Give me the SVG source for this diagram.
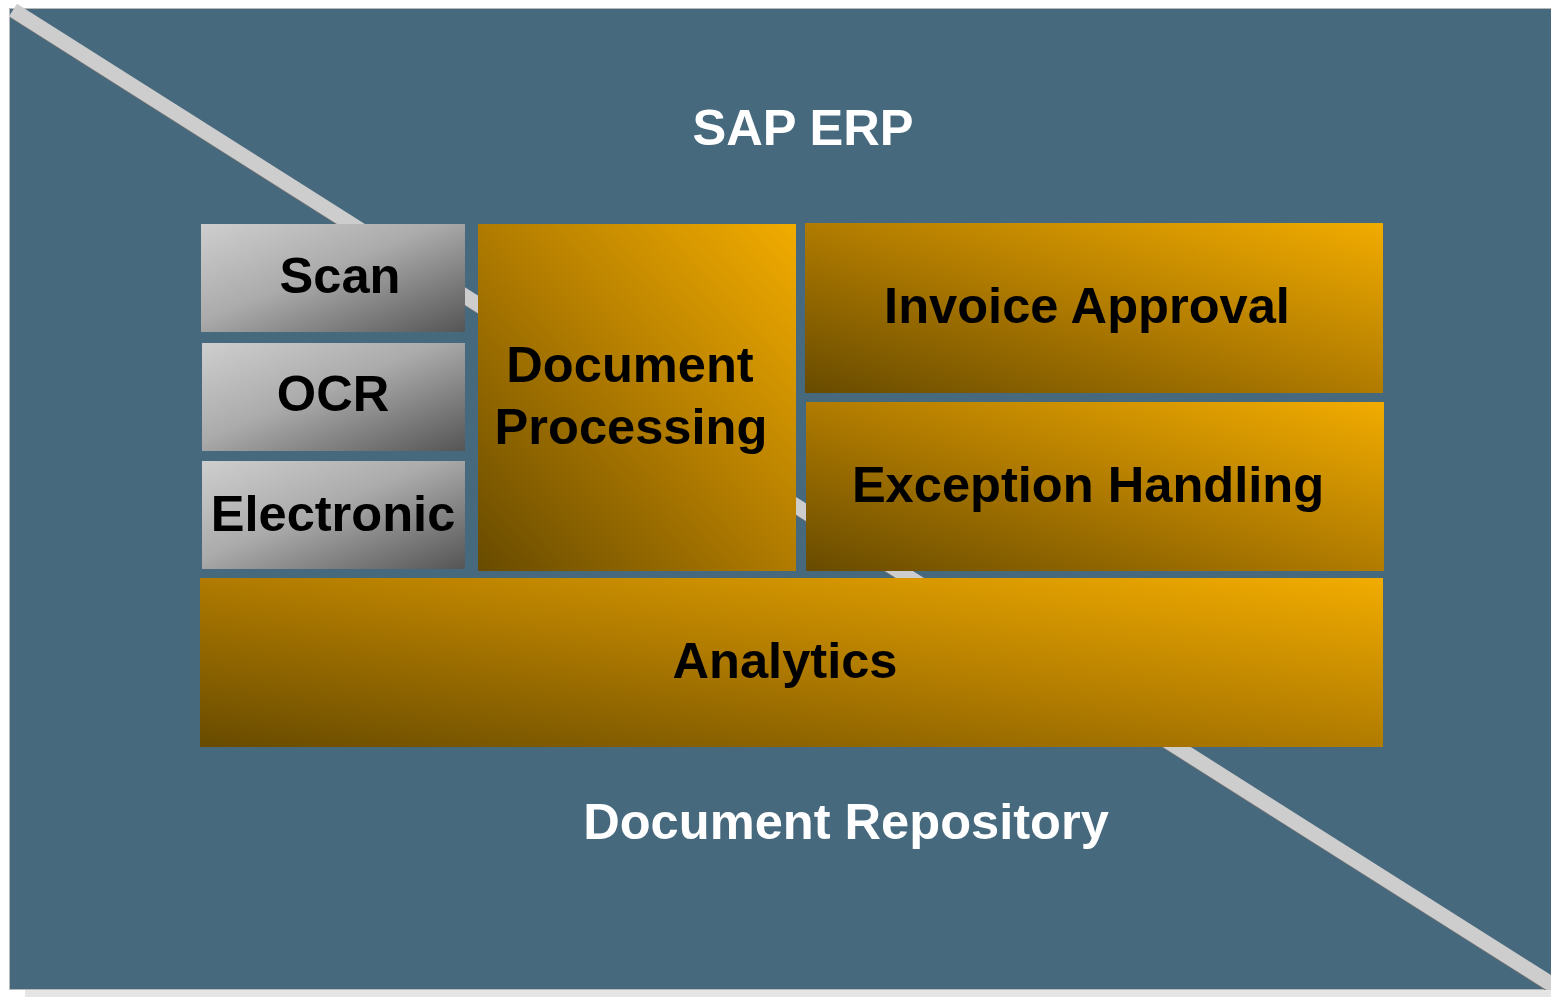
<svg xmlns="http://www.w3.org/2000/svg" width="1551" height="997" viewBox="0 0 1551 997">
  <defs>
    <linearGradient id="gGray" x1="0" y1="0" x2="1" y2="1">
      <stop offset="0" stop-color="#CECECE"/>
      <stop offset="0.45" stop-color="#ABABAB"/>
      <stop offset="1" stop-color="#555555"/>
    </linearGradient>
    <linearGradient id="gGold" x1="1" y1="0" x2="0" y2="1">
      <stop offset="0" stop-color="#F2AC00"/>
      <stop offset="0.5" stop-color="#B07B00"/>
      <stop offset="1" stop-color="#684B00"/>
    </linearGradient>
    <clipPath id="clipBg">
      <rect x="0" y="0" width="1551" height="990"/>
    </clipPath>
  </defs>
  <style>
    .lbl { font-family: "Liberation Sans", Arial, sans-serif; font-weight: bold; font-size: 50.6px; text-anchor: middle; fill: #000000; }
    .ttl { font-family: "Liberation Sans", Arial, sans-serif; font-weight: bold; font-size: 50.6px; text-anchor: middle; fill: #FFFFFF; }
    .gray { fill: url(#gGray); }
    .gold { fill: url(#gGold); }
  </style>

  <g id="background">
    <rect x="25" y="990" width="1526" height="7" fill="#E5E5E5"/>
    <rect x="9.5" y="8.5" width="1545" height="981" fill="#46697E" stroke="#B8B8B8" stroke-width="1"/>
    <g clip-path="url(#clipBg)">
      <line x1="14" y1="11.5" x2="1570" y2="997" stroke="#707070" stroke-width="15"/>
      <line x1="13" y1="10" x2="1570" y2="996" stroke="#CDCDCD" stroke-width="15"/>
    </g>
    <text class="ttl" x="803" y="145">SAP ERP</text>
    <text class="ttl" x="846" y="839">Document Repository</text>
  </g>

  <g id="connectors"></g>

  <g id="node-scan">
    <rect class="gray" x="201" y="224" width="264" height="108"/>
    <text class="lbl" x="340" y="293">Scan</text>
  </g>
  <g id="node-ocr">
    <rect class="gray" x="202" y="343" width="263" height="108"/>
    <text class="lbl" x="333" y="411">OCR</text>
  </g>
  <g id="node-electronic">
    <rect class="gray" x="202" y="461" width="263" height="108"/>
    <text class="lbl" x="333" y="531">Electronic</text>
  </g>
  <g id="node-document-processing">
    <rect class="gold" x="478" y="224" width="318" height="347"/>
    <text class="lbl" x="630" y="382">Document</text>
    <text class="lbl" x="631" y="444">Processing</text>
  </g>
  <g id="node-invoice-approval">
    <rect class="gold" x="805" y="223" width="578" height="170"/>
    <text class="lbl" x="1087" y="323">Invoice Approval</text>
  </g>
  <g id="node-exception-handling">
    <rect class="gold" x="806" y="402" width="578" height="169"/>
    <text class="lbl" x="1088" y="502">Exception Handling</text>
  </g>
  <g id="node-analytics">
    <rect class="gold" x="200" y="578" width="1183" height="169"/>
    <text class="lbl" x="785" y="678">Analytics</text>
  </g>
</svg>
